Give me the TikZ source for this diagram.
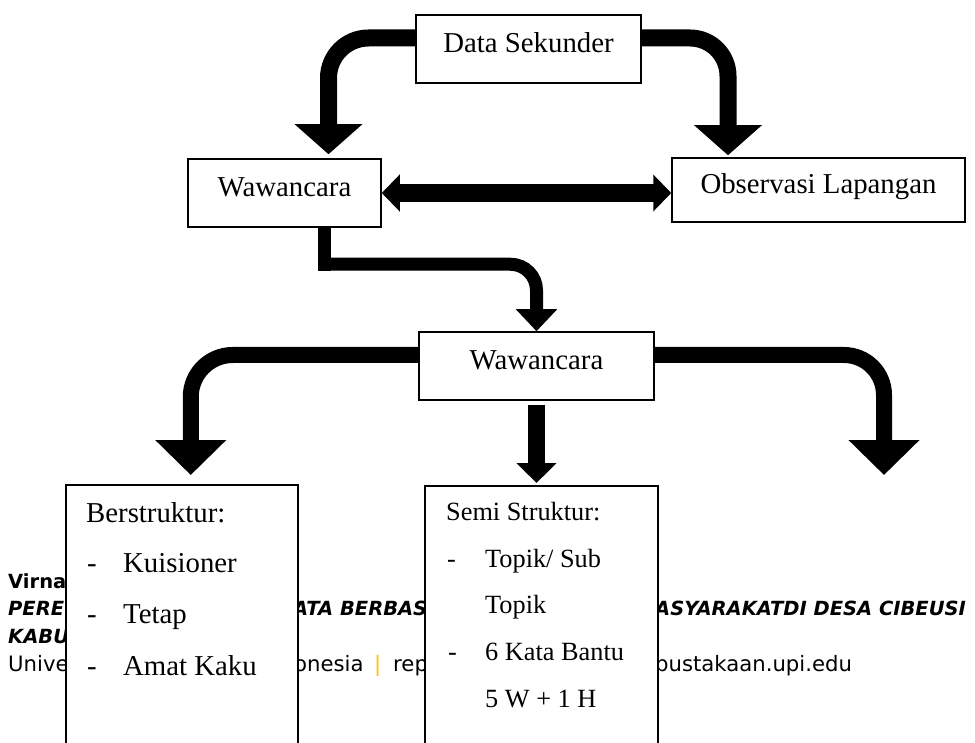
\documentclass[tikz,border=0pt]{standalone}
\usepackage{fontspec}
\setmainfont{Liberation Serif}
\newfontfamily\footfont{DejaVu Sans}
\usetikzlibrary{arrows.meta,calc}
\definecolor{sepcol}{HTML}{FFC000}
\tikzset{
  box/.style={draw, line width=1.5pt, fill=white, inner sep=0pt,
    font=\fontsize{28.8}{34}\selectfont, text height=20pt, text depth=12pt},
  tallbox/.style={draw, line width=1.5pt, fill=white, anchor=north west, inner sep=0pt},
  btext/.style={anchor=base west, inner sep=0pt, font=\fontsize{28.8}{34}\selectfont},
  stext/.style={anchor=base west, inner sep=0pt, font=\fontsize{26.3}{30}\selectfont},
  footreg/.style={anchor=base west, inner sep=0pt, font=\footfont\fontsize{21.2}{23}\selectfont},
  footbold/.style={anchor=base west, inner sep=0pt, font=\footfont\bfseries\fontsize{19.5}{22}\selectfont},
  footbi/.style={anchor=base west, inner sep=0pt, font=\footfont\bfseries\itshape\fontsize{19.5}{22}\selectfont},
  conn/.style={line width=17pt, line cap=butt, -{Triangle[width=66pt,length=30pt]}},
  conntwo/.style={line width=13pt, line cap=butt, -{Triangle[width=40pt,length=22pt]}},
  connthree/.style={line width=16pt, line cap=butt, -{Triangle[width=69pt,length=35pt]}},
  connfour/.style={line width=17pt, line cap=butt, -{Triangle[width=39pt,length=20pt]}},
  dbl/.style={line width=18pt, line cap=butt, {Triangle[width=36pt,length=18pt]}-{Triangle[width=36pt,length=18pt]}},
  barline/.style={line width=13pt, line cap=butt}
}
\begin{document}
\begin{tikzpicture}[x=1pt,y=-1pt]
\useasboundingbox[fill=white] (0,0) rectangle (975,743);

% footer text (partly hidden behind the boxes)
\node[footbold] (f1) at (8,588) {Virna};
\node[footbi] (f2a) at (8,615) {PERE};
\node[footbi] (f2b) at (293,615) {ATA BERBAS};
\node[footbi] (f2c) at (655,615) {ASYARAKATDI DESA CIBEUSI};
\node[footbi] (f3) at (8,643) {KABU};
\node[footreg] (f4a) at (8,671) {Unive};
\node[footreg] (f4b) at (294,671) {onesia};
\node[footreg, text=sepcol] (f4c) at (374,671) {|};
\node[footreg] (f4d) at (393,671) {rep};
\node[footreg] (f4e) at (655,671) {pustakaan.upi.edu};

% boxes
\node[box, minimum width=225pt, minimum height=68pt] (ds) at (528.5,49) {Data Sekunder};
\node[box, minimum width=193pt, minimum height=68pt] (w1) at (284.5,193) {Wawancara};
\node[box, minimum width=293pt, minimum height=64pt] (obs) at (818.5,190) {Observasi Lapangan};
\node[box, minimum width=235pt, minimum height=68pt] (w2) at (536.5,366) {Wawancara};
\node[tallbox, minimum width=232pt, minimum height=280pt] (ber) at (65,484) {};
\node[tallbox, minimum width=233pt, minimum height=280pt] (semi) at (424,485) {};

% Berstruktur text
\node[btext] (b0) at (86,522) {Berstruktur:};
\node[btext] (b1d) at (87,572) {-};
\node[btext] (b1) at (123,572) {Kuisioner};
\node[btext] (b2d) at (87,623) {-};
\node[btext] (b2) at (123,623) {Tetap};
\node[btext] (b3d) at (87,675) {-};
\node[btext] (b3) at (123,675) {Amat Kaku};

% Semi Struktur text
\node[stext] (s0) at (446,520) {Semi Struktur:};
\node[stext] (s1d) at (447,567) {-};
\node[stext] (s1) at (485,567) {Topik/ Sub};
\node[stext] (s2) at (485,613) {Topik};
\node[stext] (s3d) at (448,660) {-};
\node[stext] (s3) at (485,660) {6 Kata Bantu};
\node[stext] (s4) at (485,707) {5 W + 1 H};

% connectors
\draw[conn, rounded corners=40pt] ([yshift=11pt]ds.west) -| ([xshift=44pt,yshift=4pt]w1.north);
\draw[conn, rounded corners=38pt] ([yshift=11pt]ds.east) -| ([xshift=-90.5pt,yshift=2pt]obs.north);
\draw[dbl] (w1.east) -- (w1.east -| obs.west);

\coordinate (k) at ($([xshift=40pt]w1.south)+(0pt,-36.5pt)$);
\draw[barline] ([xshift=40pt]w1.south) -- ([yshift=-6.5pt]k);
\draw[conntwo, rounded corners=26pt] ([xshift=-6.5pt]k) -| (w2.north);

\draw[connthree, rounded corners=42pt] ([yshift=11pt]w2.west) -| ([xshift=9pt,yshift=9pt]ber.north);
\coordinate (rt) at (884,475);
\draw[connthree, rounded corners=40pt] ([yshift=11pt]w2.east) -| (rt);
\draw[connfour] ([yshift=-4pt]w2.south) -- ([yshift=2pt]w2.south |- semi.north);
\end{tikzpicture}
\end{document}
